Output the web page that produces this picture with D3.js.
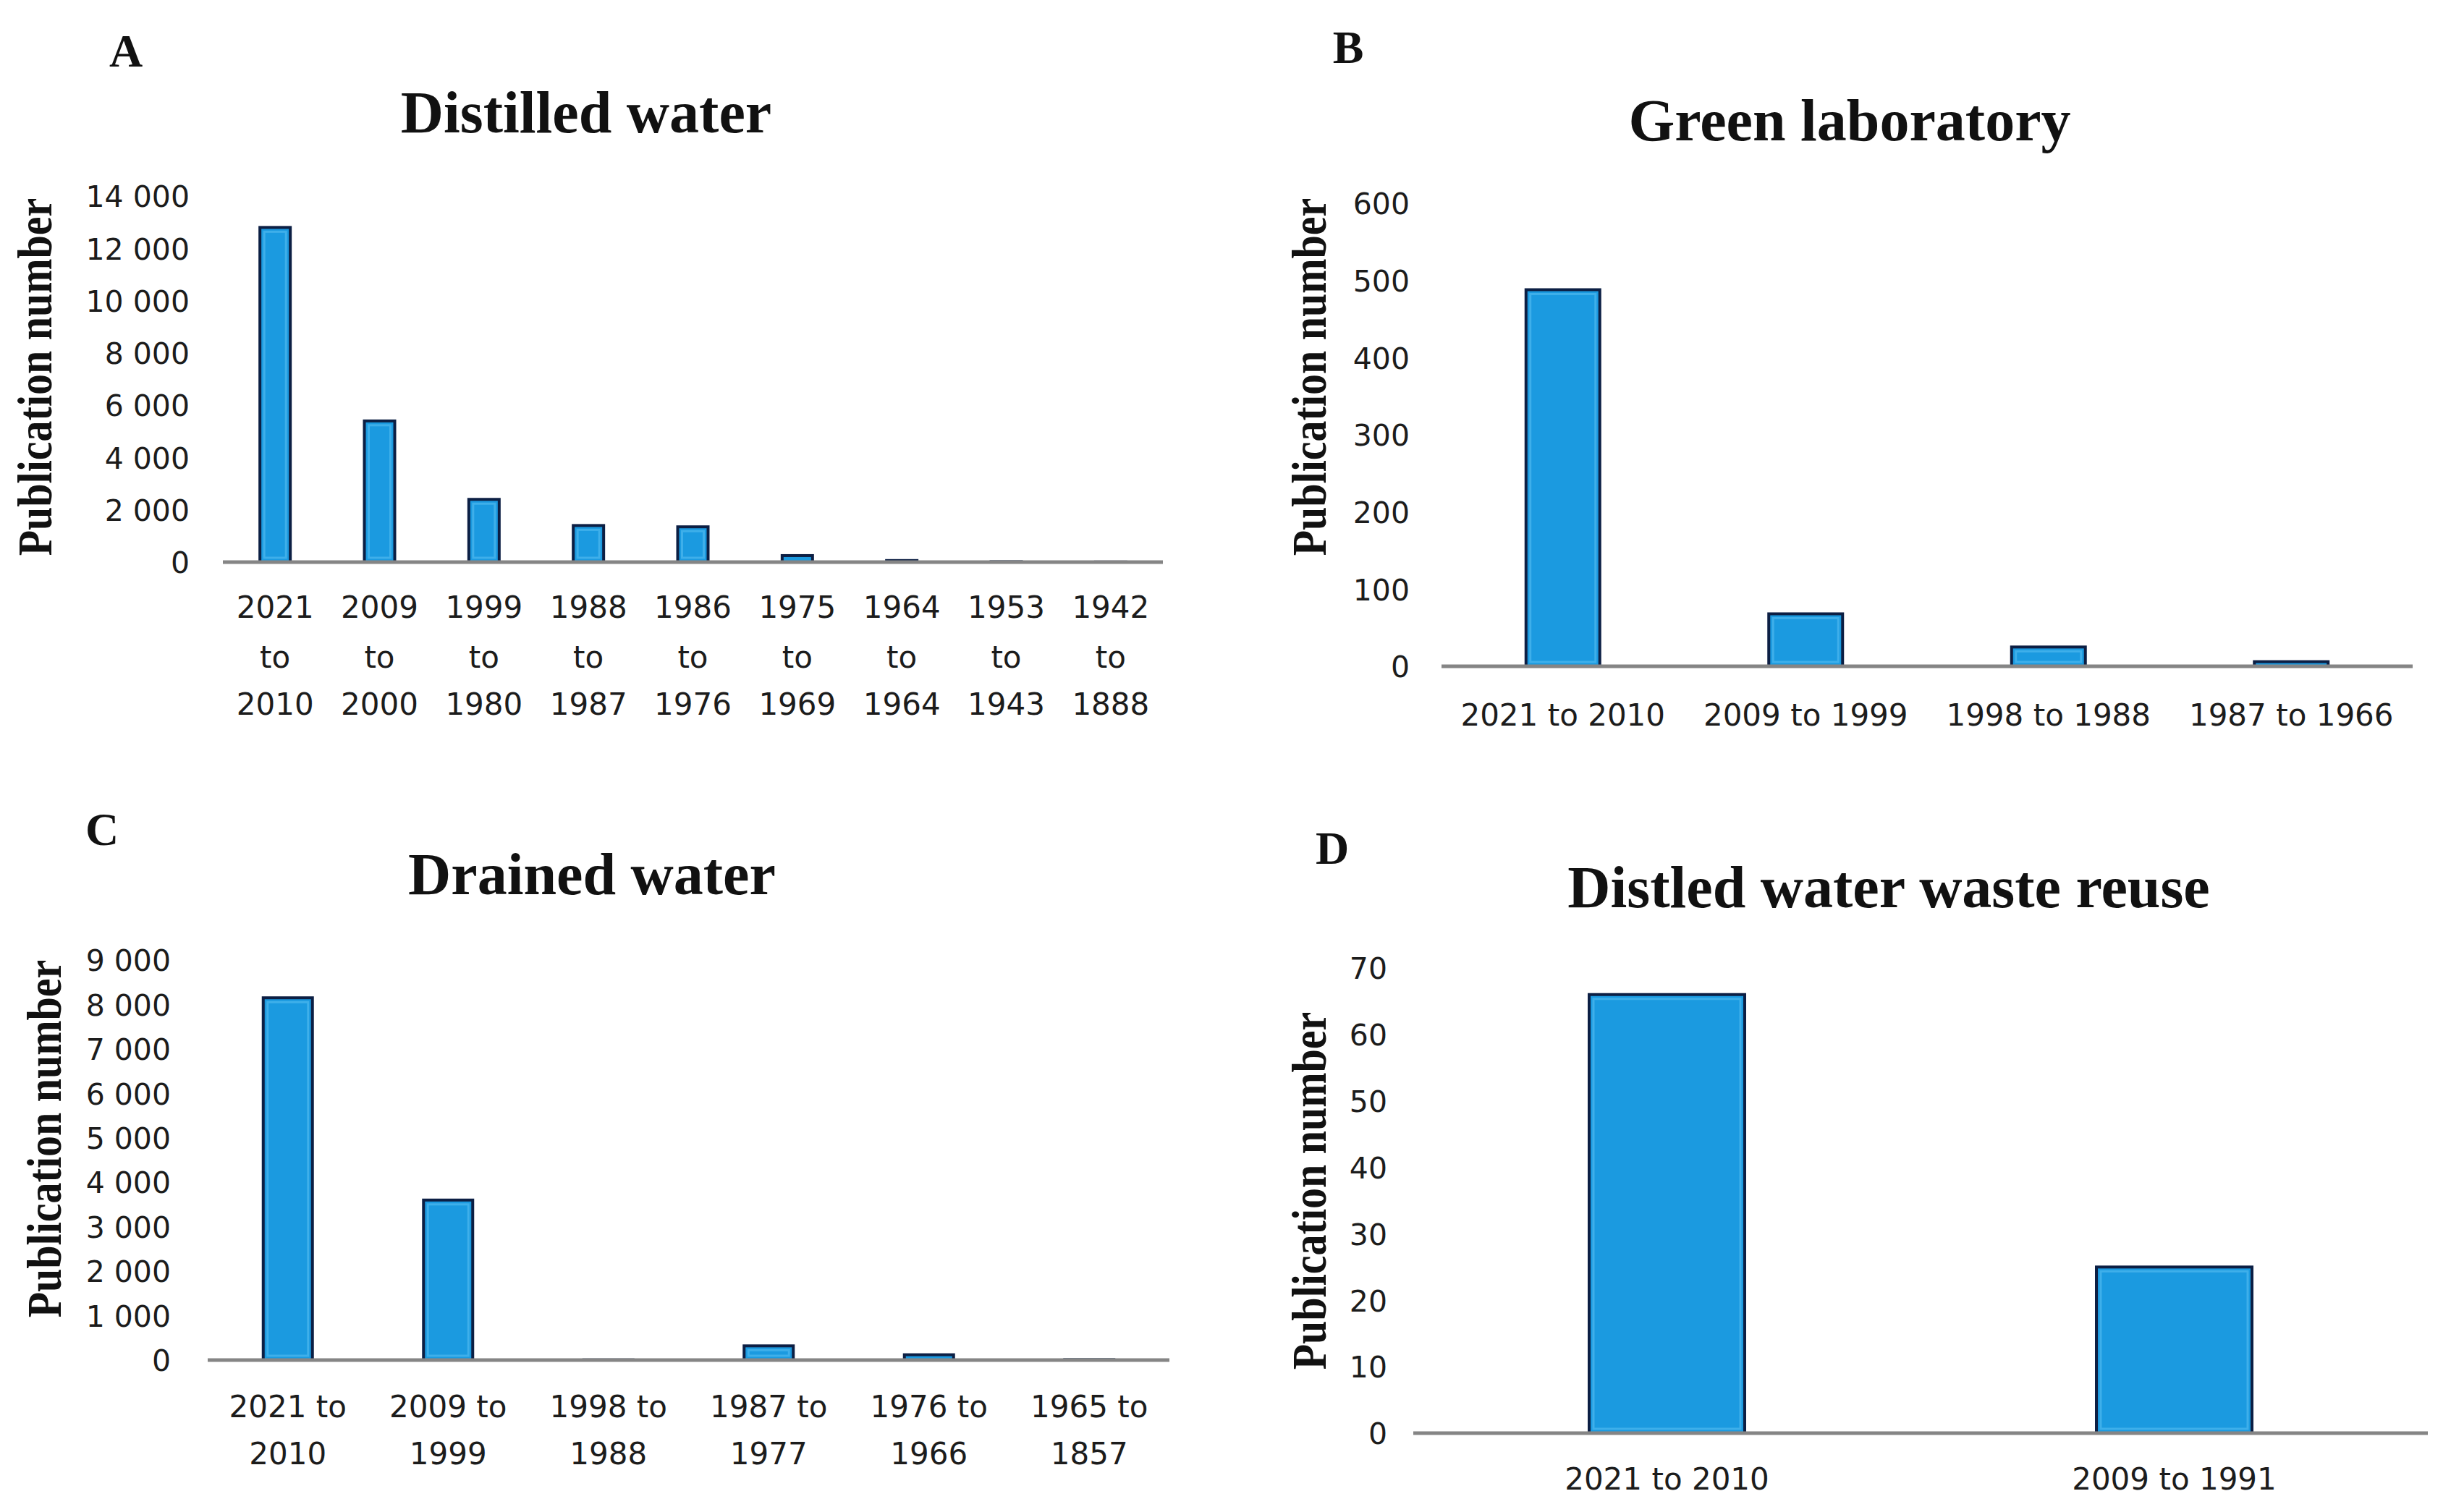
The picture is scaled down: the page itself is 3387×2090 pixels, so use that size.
<!DOCTYPE html>
<html>
<head>
<meta charset="utf-8">
<script src="https://cdn.jsdelivr.net/npm/d3@7"></script>
<style>
  html, body { margin: 0; padding: 0; background: #ffffff; }
  svg { display: block; }
</style>
</head>
<body>
<svg id="chart" width="3387" height="2090"></svg>
<script>
// ---------------- DATA ----------------
const panelLetters = ["A", "B", "C", "D"];
const panelTitles = ["Distilled water", "Green laboratory", "Drained water", "Distled water waste reuse"];
const yAxisTitle = "Publication number";

const categoriesA = ["2021 to 2010", "2009 to 2000", "1999 to 1980", "1988 to 1987", "1986 to 1976",
                     "1975 to 1969", "1964 to 1964", "1953 to 1943", "1942 to 1888"];
const valuesA = [12800, 5400, 2400, 1400, 1350, 250, 60, 15, 5];
const ticksA = [0, 2000, 4000, 6000, 8000, 10000, 12000, 14000];

const categoriesB = ["2021 to 2010", "2009 to 1999", "1998 to 1988", "1987 to 1966"];
const valuesB = [488, 68, 25, 6];
const ticksB = [0, 100, 200, 300, 400, 500, 600];

const categoriesC = ["2021 to 2010", "2009 to 1999", "1998 to 1988", "1987 to 1977", "1976 to 1966", "1965 to 1857"];
const valuesC = [8150, 3600, 5, 320, 120, 10];
const ticksC = [0, 1000, 2000, 3000, 4000, 5000, 6000, 7000, 8000, 9000];

const categoriesD = ["2021 to 2010", "2009 to 1991"];
const valuesD = [66, 25];
const ticksD = [0, 10, 20, 30, 40, 50, 60, 70];

// ---------------- LAYOUT / STYLE ----------------
const svg = d3.select("#chart");
const fmt = d3.formatLocale({decimal: ".", thousands: " ", grouping: [3], currency: ["", ""]}).format(",");

const layouts = [
  { cats: categoriesA, vals: valuesA, ticks: ticksA, max: 14000,
    x0: 308, x1: 1607, yTop: 271, yBot: 777, barW: 42, tickRight: 262,
    labelLines: "three", labelY: [839, 908, 973],
    title: [810, 156], letter: [174, 70], yTitle: [48, 521] },
  { cats: categoriesB, vals: valuesB, ticks: ticksB, max: 600,
    x0: 1992, x1: 3334, yTop: 281, yBot: 921, barW: 102, tickRight: 1948,
    labelLines: "one", labelY: [988],
    title: [2556, 167], letter: [1863, 65], yTitle: [1809, 521] },
  { cats: categoriesC, vals: valuesC, ticks: ticksC, max: 9000,
    x0: 287, x1: 1616, yTop: 1327, yBot: 1880, barW: 68, tickRight: 236,
    labelLines: "two", labelY: [1944, 2009],
    title: [818, 1209], letter: [141, 1146], yTitle: [61, 1574] },
  { cats: categoriesD, vals: valuesD, ticks: ticksD, max: 70,
    x0: 1953, x1: 3355, yTop: 1338, yBot: 1981, barW: 215, tickRight: 1917,
    labelLines: "one", labelY: [2044],
    title: [2610, 1227], letter: [1841, 1172], yTitle: [1809, 1646] }
];

const serif = "'Liberation Serif', 'Times New Roman', serif";
const sans = "'DejaVu Sans', Verdana, sans-serif";

layouts.forEach((L, i) => {
  const g = svg.append("g");
  const n = L.cats.length;
  const step = (L.x1 - L.x0) / n;
  const pad = 1 - L.barW / step;
  const x = d3.scaleBand().domain(L.cats).range([L.x0, L.x1]).paddingInner(pad).paddingOuter(pad / 2);
  const y = d3.scaleLinear().domain([0, L.max]).range([L.yBot, L.yTop]);
  const rows = L.cats.map((c, j) => ({ c: c, v: L.vals[j] }));

  // panel letter
  g.append("text").attr("x", L.letter[0]).attr("y", L.letter[1]).attr("dy", "0.35em")
    .attr("text-anchor", "middle").attr("font-family", serif).attr("font-weight", "bold")
    .attr("font-size", 64).attr("fill", "#111").text(panelLetters[i]);

  // title
  g.append("text").attr("x", L.title[0]).attr("y", L.title[1]).attr("dy", "0.33em")
    .attr("text-anchor", "middle").attr("font-family", serif).attr("font-weight", "bold")
    .attr("font-size", 82).attr("fill", "#111").text(panelTitles[i]);

  // y axis title
  g.append("text")
    .attr("transform", `translate(${L.yTitle[0]},${L.yTitle[1]}) rotate(-90) scale(1,1.15)`)
    .attr("dy", "0.35em").attr("text-anchor", "middle").attr("font-family", serif)
    .attr("font-weight", "bold").attr("font-size", 58).attr("fill", "#111").text(yAxisTitle);

  // y axis tick labels
  const yAxis = d3.axisLeft(y).tickValues(L.ticks).tickSize(0).tickPadding(0).tickFormat(fmt);
  const ya = g.append("g").attr("transform", `translate(${L.tickRight},0)`).call(yAxis);
  ya.select(".domain").remove();
  ya.selectAll("text").attr("font-family", sans).attr("font-size", 41).attr("fill", "#1c1c1c")
    .attr("dy", "0.36em");

  // bars
  const bars = g.append("g");
  bars.selectAll("rect.bar").data(rows).join("rect").attr("class", "bar")
    .attr("x", d => x(d.c))
    .attr("y", d => y(d.v))
    .attr("width", x.bandwidth())
    .attr("height", d => y(0) - y(d.v))
    .attr("fill", "#1b9ae0")
    .attr("stroke", "#0c1f44")
    .attr("stroke-width", 4);
  // inner highlight
  bars.selectAll("rect.hl").data(rows.filter(d => y(0) - y(d.v) > 16)).join("rect").attr("class", "hl")
    .attr("x", d => x(d.c) + 6)
    .attr("y", d => y(d.v) + 6)
    .attr("width", x.bandwidth() - 12)
    .attr("height", d => y(0) - y(d.v) - 12)
    .attr("fill", "none")
    .attr("stroke", "#62c3f3")
    .attr("stroke-opacity", 0.5)
    .attr("stroke-width", 3);

  // baseline
  g.append("line").attr("x1", L.x0).attr("x2", L.x1).attr("y1", y(0)).attr("y2", y(0))
    .attr("stroke", "#858585").attr("stroke-width", 5);

  // category labels
  const lab = g.append("g");
  L.cats.forEach(c => {
    const parts = c.split(" to ");
    let lines;
    if (L.labelLines === "three") lines = [parts[0], "to", parts[1]];
    else if (L.labelLines === "two") lines = [parts[0] + " to", parts[1]];
    else lines = [c];
    lines.forEach((t, k) => {
      lab.append("text").attr("x", x(c) + x.bandwidth() / 2).attr("y", L.labelY[k])
        .attr("dy", "0.36em").attr("text-anchor", "middle").attr("font-family", sans)
        .attr("font-size", 42).attr("fill", "#1c1c1c").text(t);
    });
  });
});
</script>
</body>
</html>
